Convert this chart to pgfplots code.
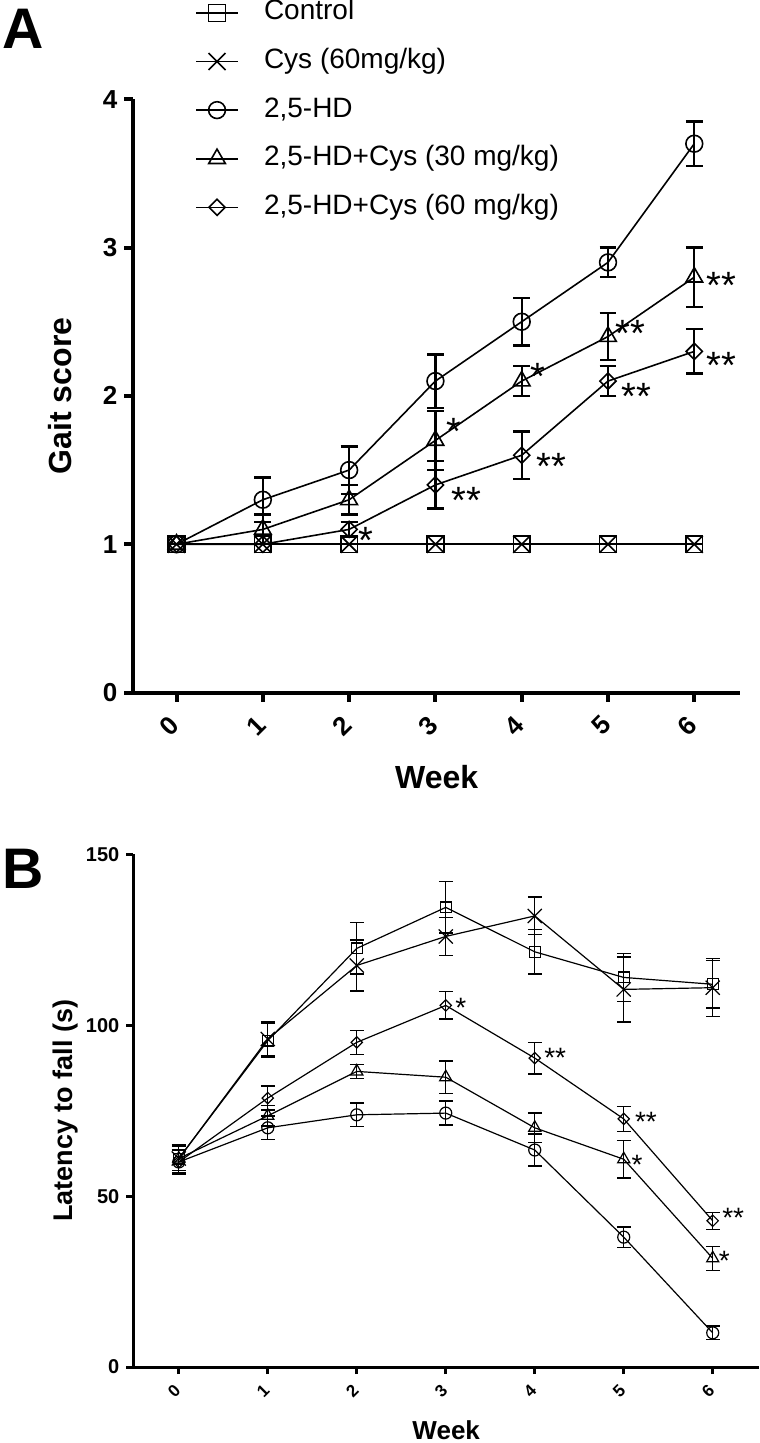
\documentclass[border=0pt]{standalone}
\usepackage{fontspec}
\setmainfont{Liberation Sans}
\usepackage{pgfplots}
\pgfplotsset{compat=1.18}
\pgfplotsset{
  serA/.style={black, line width=0.8pt, mark options={fill=white, solid, line width=0.8pt},
    error bars/y dir=both, error bars/y explicit,
    error bars/error bar style={line width=1.2pt, black},
    error bars/error mark options={rotate=90, mark size=4.2pt, line width=1.2pt, black}},
  serB/.style={black, line width=0.6pt, mark options={fill=white, solid, line width=0.6pt},
    error bars/y dir=both, error bars/y explicit,
    error bars/error bar style={line width=0.7pt, black},
    error bars/error mark options={rotate=90, mark size=3.4pt, line width=0.7pt, black}},
}
\begin{document}
\begin{tikzpicture}
\path[use as bounding box] (0pt,0pt) rectangle (379.5pt,-721.5pt);
\node[anchor=base west, inner sep=0pt, font=\fontsize{28.6}{30}\selectfont\bfseries] at (0.85pt,-24.15pt) {A};
\node[anchor=base west, inner sep=0pt, font=\fontsize{28.6}{30}\selectfont\bfseries] at (1.3pt,-444pt) {B};
% ---------------- Panel A
\begin{axis}[
  at={(66.7pt,-346.3pt)}, anchor=south west,
  width=303.3pt, height=296.7pt, scale only axis,
  xmin=-0.5, xmax=6.53, ymin=0, ymax=4,
  axis lines=left, axis line style={line width=2pt, -},
  xtick={0,1,2,3,4,5,6}, ytick={0,1,2,3,4},
  tick align=outside, major tick length=4.5pt,
  tick style={line width=2pt, black},
  /pgf/number format/assume math mode=true,
  xticklabel style={font=\fontsize{13}{13}\selectfont\bfseries, anchor=center, yshift=-12pt, xshift=-3.5pt, rotate=45},
  yticklabel style={font=\fontsize{13}{13}\selectfont\bfseries},
  xlabel={Week}, ylabel={Gait score},
  every axis x label/.style={at={(axis description cs:0.5,-0.143)}, anchor=center, font=\fontsize{16}{16}\selectfont\bfseries},
  every axis y label/.style={at={(axis description cs:-0.121,0.5)}, anchor=center, rotate=90, font=\fontsize{16}{16}\selectfont\bfseries},
  clip=false,
  legend style={at={(rel axis cs:0.1016,1.168)}, anchor=north west, draw=none, fill=none,
    inner sep=0pt, row sep=11.3pt, font=\fontsize{14}{14}\selectfont,
    nodes={inner sep=0pt, text height=10pt, text depth=3pt}},
  legend cell align=left,
  legend image code/.code={\path (0pt,0pt) (33.5pt,0pt);
    \draw[#1, mark repeat=2, mark phase=2] plot coordinates {(0pt,0pt) (10.4pt,0pt) (20.8pt,0pt)};},
]
\addplot[serA, mark=square, mark size=4.2pt] table[x=x, y=y, y error=e] {
x y e
0 1 0
1 1 0
2 1 0
3 1 0
4 1 0
5 1 0
6 1 0
};
\addlegendentry{Control}
\addplot[serA, mark=x, mark size=6pt] table[x=x, y=y, y error=e] {
x y e
0 1 0
1 1 0
2 1 0
3 1 0
4 1 0
5 1 0
6 1 0
};
\addlegendentry{Cys (60mg/kg)}
\addplot[serA, mark=o, mark size=4.2pt] table[x=x, y=y, y error=e] {
x y e
0 1 0
1 1.3 0.15
2 1.5 0.16
3 2.1 0.18
4 2.5 0.16
5 2.9 0.10
6 3.7 0.15
};
\addlegendentry{2,5-HD}
\addplot[serA, mark=triangle, mark size=4.8pt] table[x=x, y=y, y error=e] {
x y e
0 1 0
1 1.1 0.10
2 1.3 0.10
3 1.7 0.20
4 2.1 0.10
5 2.4 0.16
6 2.8 0.20
};
\addlegendentry{2,5-HD+Cys (30 mg/kg)}
\addplot[serA, mark=square, mark size=2.85pt, mark options={rotate=45}] table[x=x, y=y, y error=e] {
x y e
0 1 0
1 1.0 0
2 1.1 0.05
3 1.4 0.16
4 1.6 0.16
5 2.1 0.10
6 2.3 0.15
};
\addlegendentry{2,5-HD+Cys (60 mg/kg)}
\begin{scope}[every node/.style={anchor=center, inner sep=0pt, font=\fontsize{19}{19}\selectfont, yshift=-4.2pt}]
\node at (axis cs:2.19,1.08) {*};
\node at (axis cs:3.21,1.82) {*};
\node at (axis cs:3.36,1.35) {**};
\node at (axis cs:4.19,2.19) {*};
\node at (axis cs:4.34,1.58) {**};
\node at (axis cs:5.26,2.48) {**};
\node at (axis cs:5.33,2.05) {**};
\node at (axis cs:6.31,2.80) {**};
\node at (axis cs:6.31,2.26) {**};
\end{scope}
\end{axis}
% ---------------- Panel B
\begin{axis}[
  at={(66.7pt,-683.5pt)}, anchor=south west,
  width=312.8pt, height=256.3pt, scale only axis,
  xmin=-0.51, xmax=6.52, ymin=0, ymax=150,
  axis lines=left, axis line style={line width=1.5pt, -},
  xtick={0,1,2,3,4,5,6}, ytick={0,50,100,150},
  tick align=outside, major tick length=3.5pt,
  tick style={line width=1.5pt, black},
  /pgf/number format/assume math mode=true,
  xticklabel style={font=\fontsize{8.5}{9}\selectfont\bfseries, anchor=center, yshift=-8.5pt, xshift=-2.3pt, rotate=45},
  yticklabel style={font=\fontsize{10}{10}\selectfont\bfseries},
  xlabel={Week}, ylabel={Latency to fall (s)},
  every axis x label/.style={at={(axis description cs:0.5,-0.123)}, anchor=center, font=\fontsize{13}{13}\selectfont\bfseries},
  every axis y label/.style={at={(axis description cs:-0.109,0.5)}, anchor=center, rotate=90, font=\fontsize{13.5}{13.5}\selectfont\bfseries},
  clip=false,
]
\addplot[serB, mark=square, mark size=2.7pt] table[x=x, y=y, y error=e] {
x y e
0 61 4
1 95.5 5
2 122.5 7.5
3 134.5 7.5
4 121.5 6.5
5 114 7
6 112 7
};
\addplot[serB, mark=x, mark size=5pt] table[x=x, y=y, y error=e] {
x y e
0 61 4
1 96 5
2 117.5 7.5
3 126 5.5
4 132 5.5
5 110.5 9.5
6 111 8.5
};
\addplot[serB, mark=o, mark size=3pt] table[x=x, y=y, y error=e] {
x y e
0 60 3.5
1 70 3.5
2 73.8 3.5
3 74.3 3.5
4 63.5 4.7
5 38 3
6 10 2
};
\addplot[serB, mark=triangle, mark size=3.5pt] table[x=x, y=y, y error=e] {
x y e
0 61 3.5
1 73.5 3
2 86.5 2
3 84.8 4.7
4 70 4.3
5 60.8 5.5
6 31.8 3.5
};
\addplot[serB, mark=square, mark size=2pt, mark options={rotate=45}] table[x=x, y=y, y error=e] {
x y e
0 60 3.5
1 78.7 3.5
2 95 3.5
3 105.8 4
4 90.4 4.6
5 72.6 3.7
6 42.8 2.5
};
\begin{scope}[every node/.style={anchor=center, inner sep=0pt, font=\fontsize{14}{14}\selectfont, yshift=-3pt}]
\node at (axis cs:3.17,106.8) {*};
\node at (axis cs:4.23,92.1) {**};
\node at (axis cs:5.25,73.6) {**};
\node at (axis cs:5.15,61.0) {*};
\node at (axis cs:6.23,45.3) {**};
\node at (axis cs:6.13,32.7) {*};
\end{scope}
\end{axis}
\end{tikzpicture}
\end{document}
